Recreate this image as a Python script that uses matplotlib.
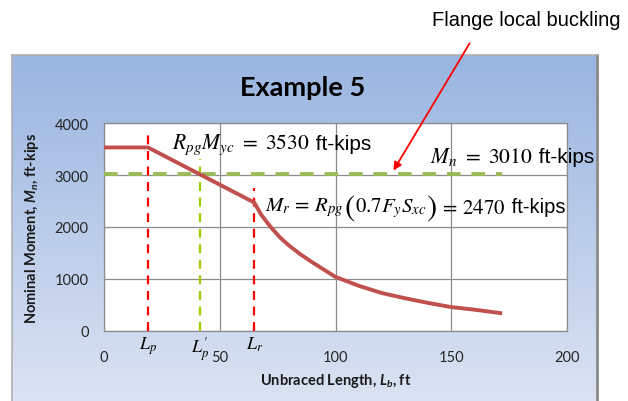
import matplotlib
import numpy as np

matplotlib.use("Agg")
import matplotlib.pyplot as plt
from matplotlib.patches import FancyArrowPatch

# data
lb_ft = [0, 19.0, 64.9, 68, 72, 76, 80, 85, 90, 100, 110, 120, 130, 140, 150, 160, 172]
mn_kips = [3530, 3530, 2470, 2230, 2000, 1800, 1640, 1470, 1320, 1040, 870, 730, 630, 540, 460, 410, 340]
lp, lp_prime, lr = 19.0, 41.5, 64.9
mn_flb = 3010
flb_end = 172
x_ticks = [0, 50, 100, 150, 200]
y_ticks = [0, 1000, 2000, 3000, 4000]

plt.rcParams.update({
    "mathtext.fontset": "stix",
    "mathtext.it": "Lato:italic:bold",
    "mathtext.rm": "Lato:bold",
    "font.family": ["Lato", "DejaVu Sans"],
})

W, H = 628, 402
fig = plt.figure(figsize=(W / 100, H / 100), dpi=100)
fig.patch.set_facecolor("white")

# chart box with blue gradient
bx0, bx1, by_top = 12, 597, 56
bg = fig.add_axes([bx0 / W, 0, (bx1 - bx0) / W, (H - by_top) / H], zorder=0)
grad = np.linspace(0, 1, 256).reshape(-1, 1)
top = np.array([0.60, 0.71, 0.88])
bot = np.array([0.86, 0.89, 0.95])
img = top + (bot - top) * grad[..., None]
bg.imshow(img, aspect="auto", extent=[0, 1, 0, 1])
bg.set_xlim(0, 1)
bg.set_ylim(0, 1)
bg.set_xticks([])
bg.set_yticks([])
for sp in bg.spines.values():
    sp.set_color("#b0b0b0")
    sp.set_linewidth(1.2)
bg.spines["right"].set_color("#8a8a8a")
bg.spines["right"].set_linewidth(2.0)
bg.spines["bottom"].set_visible(False)

# plot area
px0, px1, py_top, py_bot = 104, 567, 124, 332
ax = fig.add_axes([px0 / W, (H - py_bot) / H, (px1 - px0) / W, (py_bot - py_top) / H], zorder=2)
ax.set_facecolor("white")
ax.set_xlim(0, 200)
ax.set_ylim(0, 4000)
ax.set_xticks(x_ticks)
ax.set_yticks(y_ticks)
ax.grid(True, color="#8c8c8c", linewidth=0.9)
ax.set_axisbelow(True)
for sp in ax.spines.values():
    sp.set_color("#8c8c8c")
    sp.set_linewidth(0.9)
ax.tick_params(length=0, labelsize=10.5, colors="#262626")
ax.tick_params(axis="x", pad=14)
ax.tick_params(axis="y", pad=11)

ax.plot(lb_ft, mn_kips, color="#C0504D", linewidth=2.8, zorder=4, solid_capstyle="butt")
ax.hlines(mn_flb, 0, flb_end, color="#9BBB59", linewidth=2.8, linestyles=(0, (3.5, 2.8)), zorder=3)
ax.vlines(lp, 0, 3850, color="#FF0000", linewidth=1.6, linestyles=(0, (4, 3)), zorder=3)
ax.vlines(lr, 0, 2750, color="#FF0000", linewidth=1.6, linestyles=(0, (4, 3)), zorder=3)
ax.vlines(lp_prime, 0, 3300, color="#99CC00", linewidth=1.6, linestyles=(0, (4, 3)), zorder=3)

# length markers under the axis
for xv, lab in [(lp, r"$L_p$"), (lp_prime, r"$L_p'$"), (lr, r"$L_r$")]:
    ax.annotate(lab, xy=(xv, 0), xytext=(0, -2.5), textcoords="offset points",
                ha="center", va="top", fontsize=13, color="black", math_fontfamily="stix")

ax.set_xlabel(r"Unbraced Length, $L_b$, ft", fontsize=10.5, fontweight="bold", labelpad=5,
              math_fontfamily="custom", color="#1a1a1a")
ax.set_ylabel(r"Nominal Moment, $M_n$, ft-kips", fontsize=10.5, fontweight="bold", labelpad=10,
              math_fontfamily="custom", color="#1a1a1a")

txt_font = ["Liberation Sans", "DejaVu Sans"]


def chain(x, y, pieces):
    # pieces: (text, fontsize, family or None); each placed after the previous one
    t = ax.text(x, y, pieces[0][0], fontsize=pieces[0][1], va="center", zorder=6,
                math_fontfamily="stix")
    for s, fs, fam in pieces[1:]:
        kw = {"family": fam} if fam else {}
        t = ax.annotate(s, xy=(1, 0.5), xycoords=t, va="center", ha="left",
                        fontsize=fs, zorder=6, math_fontfamily="stix", **kw)
    return t


chain(29.4, 3600, [(r"$R_{pg}M_{yc}\ =\ 3530$", 15.5, None), (" ft-kips", 15, txt_font)])
chain(140.8, 3365, [(r"$M_n\ =\ 3010$", 15.5, None), (" ft-kips", 15, txt_font)])
chain(69.5, 2385, [(r"$M_r\,=\,R_{pg}$", 15, None), (r"$($", 22, None),
                   (r"$0.7F_yS_{xc}$", 15, None), (r"$)$", 22, None),
                   (r"$\,=\,2470$", 15, None), (" ft-kips", 14.5, txt_font)])

fig.text(303 / W, 1 - 88 / H, "Example 5", fontsize=19.5, fontweight="bold", ha="center",
         va="center", color="black")
fig.text(621 / W, 1 - 20 / H, "Flange local buckling", fontsize=14.5, family=txt_font,
         ha="right", va="center")
fig.add_artist(FancyArrowPatch(
    (471 / W, 1 - 42 / H), (392 / W, 1 - 174 / H), transform=fig.transFigure,
    arrowstyle="-|>", mutation_scale=12, color="#FF0000", linewidth=1.3, zorder=10))

fig.savefig("out.png", dpi=100, facecolor="white")
